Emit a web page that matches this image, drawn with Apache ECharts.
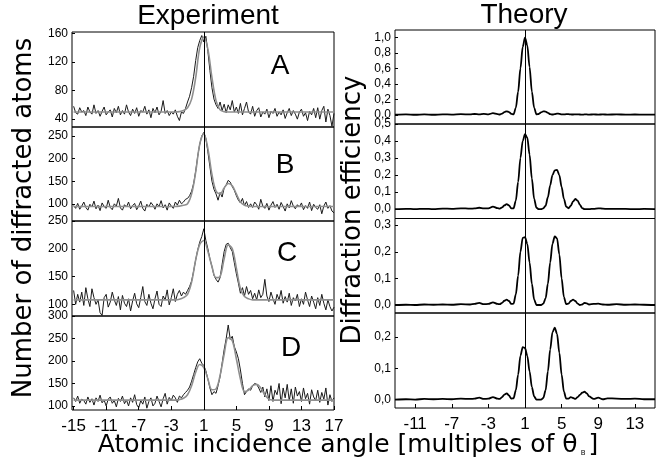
<!DOCTYPE html>
<html>
<head>
<meta charset="utf-8">
<script src="https://cdn.jsdelivr.net/npm/echarts@6/dist/echarts.min.js"></script>
<style>
html, body { margin: 0; padding: 0; background: #fff; }
#chart { width: 666px; height: 466px; }
</style>
</head>
<body>
<div id="chart"></div>
<script>
// measured counts, one point every 0.25 from -15 to 17
var expStart = -15, expStep = 0.25;
var expA = [
  58,49,47,56,50,52,45,57,  50,47,60,48,52,44,51,57,
  46,50,53,43,55,49,58,46,  52,47,60,50,45,54,48,56,
  44,52,50,58,47,53,42,55,  49,57,46,51,66,48,52,45,
  50,47,53,44,38,50,48,55,  64,72,84,100,122,140,150,157,
  148,156,135,108,84,68,60,55,  64,52,61,49,60,53,66,50,
  57,48,62,46,55,64,50,47,  58,44,52,56,43,50,47,54,
  42,51,48,55,44,50,46,53,  41,49,55,45,52,47,40,50,
  54,44,49,38,51,46,55,42,  56,40,52,58,36,54,45,30,
  48
];
var expB = [
  96,90,101,88,95,104,92,86,  99,93,106,89,97,85,102,94,
  90,108,92,87,100,95,112,91,  86,98,93,104,89,96,101,87,
  95,106,90,84,99,93,103,97,  88,100,94,107,91,98,86,102,
  95,90,104,97,108,100,104,110,  112,118,128,145,172,205,232,250,
  258,245,215,182,150,132,122,108,  125,115,135,142,152,148,138,130,
  118,108,102,112,96,105,92,100,  92,104,98,88,110,95,90,101,
  86,97,105,92,99,88,103,94,  84,100,91,107,95,89,98,93,
  102,87,96,90,104,85,99,92,  88,98,78,95,104,90,96,84,
  80
];
var expC = [
  125,100,118,104,122,98,130,110,  96,128,112,100,108,85,80,112,
  118,95,104,122,108,98,114,90,  116,102,96,110,88,106,120,101,
  94,112,132,105,98,118,102,92,  110,124,100,96,115,108,126,99,
  112,128,105,118,125,115,122,118,  125,132,142,160,180,198,212,222,
  236,215,200,182,168,152,145,140,  148,172,195,208,210,202,195,175,
  155,138,120,130,115,132,118,125,  110,120,108,126,112,118,145,115,
  105,122,110,100,118,108,125,102,  114,104,120,98,112,106,118,96,
  110,100,122,108,96,115,104,92,  112,98,118,102,90,108,96,88,
  95
];
var expD = [
  118,110,122,106,115,112,104,120,  108,116,102,118,110,124,107,113,
  100,115,120,106,112,98,117,110,  122,105,113,100,118,108,125,103,
  96,112,104,120,95,110,118,100,  106,122,110,98,116,128,104,119,
  112,124,118,108,122,118,125,130,  135,142,155,170,185,198,205,195,
  190,178,160,140,125,132,128,145,  165,195,225,250,280,248,255,232,
  220,205,180,150,125,132,138,135,  145,150,148,140,130,142,120,138,
  112,145,110,135,125,150,105,140,  118,148,112,138,106,142,122,132,
  110,140,116,128,104,136,120,112,  135,108,130,115,140,102,125,110,
  118
];

// fitted curves (grey), one point every 0.5 from -15 to 17
var fitStart = -15, fitStep = 0.5;
var fitA = [
  50,50,50,50, 50,50,50,50, 50,50,50,50, 50,50,50,50, 50,50,50,50, 50,50,50,50,
  50,50,50.5,52, 56,68,98,140, 155,138,98,66, 53,50.5,50,50,
  50,50,50,50, 50,50,50,50, 50,50,50,50, 50,50,50,50, 50,50,50,50, 50,50,50,50,
  50
];
var fitB = [
  94,94,94,94, 94,94,94,94, 94,94,94,94, 94,94,94,94, 94,94,94,94, 94,94,94,94,
  94,94,95,97, 100,122,170,232, 255,222,165,128, 122,135,145,140,
  122,104,97,95, 94,94,94,94, 94,94,94,94, 94,94,94,94, 94,94,94,94, 94,94,94,94,
  94
];
var fitC = [
  108,108,108,108, 108,108,108,108, 108,108,108,108, 108,108,108,108, 108,108,108,108, 108,108,108,108,
  108,108,109,112, 118,140,180,208, 215,195,168,148, 150,182,207,200,
  165,128,114,110, 108,108,108,108, 108,108,108,108, 108,108,108,108, 108,108,108,108, 108,108,108,108,
  108
];
var fitD = [
  113,113,113,113, 113,113,113,113, 113,113,113,113, 113,113,113,113, 113,113,113,113, 113,113,113,113,
  113,113,114,117, 125,145,175,192, 185,160,136,138, 168,215,252,245,
  205,160,132,135, 145,148,140,125, 115,113,113,113, 113,113,113,113, 113,113,113,113, 113,113,113,113,
  113
];

// theory: diffraction efficiency
var thX = [
  -13.2,-12,-11,-10,-9,-8,-7,-6,-5,-4.5,-4,-3.5,-3,-2.5,-2,-1.75,-1.5,-1.25,-1,-0.75,-0.5,-0.25,
  0,0.25,0.5,0.75,1,1.25,1.5,1.75,2,2.25,2.5,2.75,3,3.25,3.5,3.75,4,4.25,4.5,4.75,
  5,5.25,5.5,5.75,6,6.25,6.5,6.75,7,7.25,7.5,7.75,8,8.5,9,9.5,10,11,12,13,14,15.2
];
var thA = [
  0,0.005,0,0.005,0,0.006,0.002,0.008,0.004,0.01,0.004,0.012,0.006,0.02,0.008,0.003,0.015,0.035,0.045,0.035,0.012,0.005,
  0.09,0.3,0.6,0.88,1.0,0.9,0.62,0.3,0.09,0.005,0.01,0.03,0.045,0.04,0.025,0.008,0.003,0.008,0.015,0.012,
  0.005,0.004,0.008,0.008,0.004,0.003,0.006,0.006,0.003,0.002,0.004,0.004,0.002,0.004,0.002,0.004,0.002,0.004,0.002,0.003,0.001,0.002
];
var thB = [
  0,0.002,0,0.002,0,0.003,0.002,0.005,0.003,0.004,0.008,0.004,0.004,0.015,0.006,0.003,0.01,0.022,0.03,0.022,0.005,0.005,
  0.05,0.16,0.3,0.4,0.44,0.42,0.32,0.18,0.06,0.008,0,0,0.005,0.02,0.07,0.14,0.2,0.228,0.23,0.2,
  0.13,0.06,0.015,0.005,0.02,0.045,0.06,0.05,0.025,0.006,0,0,0,0.002,0.005,0.003,0.001,0.002,0.001,0,0.001,0
];
var thC = [
  0,0.001,0,0.002,0.001,0.002,0.001,0.003,0.002,0.004,0.008,0.003,0.004,0.01,0.004,0.003,0.008,0.016,0.02,0.015,0.004,0.005,
  0.04,0.11,0.2,0.252,0.255,0.23,0.16,0.08,0.02,0,0,0,0.005,0.025,0.08,0.16,0.23,0.258,0.25,0.19,
  0.1,0.03,0.003,0.005,0.015,0.02,0.015,0.005,0,0.002,0.008,0.006,0.002,0.004,0.005,0.002,0.001,0.003,0.001,0.002,0.001,0
];
var thD = [
  0,0.001,0,0.002,0.001,0.002,0.001,0.003,0.002,0.003,0.006,0.002,0.003,0.008,0.003,0.002,0.008,0.016,0.02,0.013,0.003,0.004,
  0.03,0.08,0.14,0.168,0.165,0.14,0.09,0.04,0.01,0,0,0,0.005,0.03,0.09,0.16,0.215,0.23,0.21,0.15,
  0.08,0.025,0.003,0.003,0.008,0.005,0.002,0.008,0.015,0.022,0.025,0.02,0.01,0.002,0.006,0.001,0.004,0.003,0.002,0.003,0.001,0.001
];

var expTicksX = [-15,-11,-7,-3,1,5,9,13,17];
var thTicksX = [-11,-7,-3,1,5,9,13];
var expTicksY = [[40,80,120,160],[100,150,200,250],[100,150,200,250],[100,150,200,250,300]];
var thTicksY = [[0,0.2,0.4,0.6,0.8,1.0],[0,0.1,0.2,0.3,0.4,0.5],[0,0.1,0.2,0.3],[0,0.1,0.2]];
var letters = ['A','B','C','D'];

var expSeries = [expA, expB, expC, expD];
var fitSeries = [fitA, fitB, fitC, fitD];
var thSeries = [thA, thB, thC, thD];

// panel layout
var expRange = [[29,162],[62,270],[79,250],[91,300]];
var thRange = [[-0.12,1.1],[-0.055,0.5],[-0.03,0.325],[-0.027,0.277]];
var expTop = [32,127,221,316], expH = [95,94,95,94];
var thTop = [30,124,218.5,313], thH = [94,94.5,94.5,95];
var letterPos = [[280,66],[285,165],[287,253],[291,348]];

var FONT = 'Liberation Sans';
var chart = echarts.init(document.getElementById('chart'));

function grid(left, top, width, height) {
  return { left: left, top: top, width: width, height: height, show: true,
    borderColor: '#000', borderWidth: 1, containLabel: false, outerBoundsMode: 'none' };
}
function xAx(idx, min, max, ticks, bottom) {
  return {
    type: 'value', gridIndex: idx, min: min, max: max,
    axisLine: { show: false, onZero: false }, splitLine: { show: false },
    axisTick: { show: bottom, inside: true, length: 4, customValues: ticks, lineStyle: { color: '#000' } },
    axisLabel: { show: bottom, customValues: ticks, fontSize: 17, color: '#000', fontFamily: FONT, margin: 8 }
  };
}
function yAx(idx, range, ticks, fmt) {
  return {
    type: 'value', gridIndex: idx, min: range[0], max: range[1],
    axisLine: { show: false, onZero: false }, splitLine: { show: false },
    axisTick: { inside: true, length: 3, customValues: ticks, lineStyle: { color: '#000' } },
    axisLabel: { customValues: ticks, fontSize: 12, color: '#000', fontFamily: FONT, margin: 4, formatter: fmt }
  };
}
var vLine = {
  silent: true, symbol: ['none','none'], label: { show: false },
  lineStyle: { color: '#000', width: 1, type: 'solid' }, data: [{ xAxis: 1 }]
};

var grids = [], xAxes = [], yAxes = [], series = [];
for (var i = 0; i < 4; i++) {
  var gi = grids.length;
  grids.push(grid(72, expTop[i], 262, expH[i]));
  xAxes.push(xAx(gi, -15.2, 17, expTicksX, i === 3));
  yAxes.push(yAx(gi, expRange[i], expTicksY[i], function (v) { return String(v); }));
  var noisy = expSeries[i].map(function (y, k) { return [expStart + k * expStep, y]; });
  var fit = fitSeries[i].map(function (y, k) { return [fitStart + k * fitStep, y]; });
  series.push({ type: 'line', xAxisIndex: gi, yAxisIndex: gi, data: noisy, symbol: 'none',
    lineStyle: { color: '#1a1a1a', width: 1 } });
  series.push({ type: 'line', xAxisIndex: gi, yAxisIndex: gi, data: fit, symbol: 'none', smooth: 0.35,
    lineStyle: { color: '#8f8f8f', width: 1.6 }, markLine: vLine });
}
for (var j = 0; j < 4; j++) {
  var gj = grids.length;
  grids.push(grid(395, thTop[j], 260, thH[j]));
  xAxes.push(xAx(gj, -13.2, 15.2, thTicksX, j === 3));
  yAxes.push(yAx(gj, thRange[j], thTicksY[j], function (v) { return v.toFixed(1).replace('.', ','); }));
  var th = thSeries[j].map(function (y, k) { return [thX[k], y]; });
  series.push({ type: 'line', xAxisIndex: gj, yAxisIndex: gj, data: th, symbol: 'none',
    smooth: 0.3, smoothMonotone: 'x',
    lineStyle: { color: '#000', width: 1.8 }, markLine: vLine });
}

var graphics = [
  { type: 'text', x: 208, y: 16, style: { text: 'Experiment', fontSize: 28, fontFamily: FONT, fill: '#000', align: 'center', verticalAlign: 'middle' } },
  { type: 'text', x: 524, y: 15, style: { text: 'Theory', fontSize: 28, fontFamily: FONT, fill: '#000', align: 'center', verticalAlign: 'middle' } },
  { type: 'text', x: 24, y: 218, rotation: Math.PI / 2, style: { text: 'Number of diffracted atoms', fontSize: 26, fontFamily: 'DejaVu Sans', fill: '#000', align: 'center', verticalAlign: 'middle' } },
  { type: 'text', x: 353, y: 210, rotation: Math.PI / 2, style: { text: 'Diffraction efficiency', fontSize: 26, fontFamily: 'DejaVu Sans', fill: '#000', align: 'center', verticalAlign: 'middle' } },
  { type: 'text', x: 348, y: 445, style: {
      text: 'Atomic incidence angle [multiples of θ{s|B}]', fontSize: 25, fontFamily: 'DejaVu Sans', fill: '#000',
      align: 'center', verticalAlign: 'middle',
      rich: { s: { fontSize: 7, fontFamily: 'DejaVu Sans', fill: '#000', padding: [16, 3, 0, 3] } } } }
];
for (var m = 0; m < 4; m++) {
  graphics.push({ type: 'text', x: letterPos[m][0], y: letterPos[m][1],
    style: { text: letters[m], fontSize: 28, fontFamily: FONT, fill: '#000', align: 'center', verticalAlign: 'middle' } });
}

chart.setOption({
  animation: false,
  backgroundColor: '#fff',
  grid: grids, xAxis: xAxes, yAxis: yAxes, series: series,
  graphic: graphics
});
</script>
</body>
</html>
